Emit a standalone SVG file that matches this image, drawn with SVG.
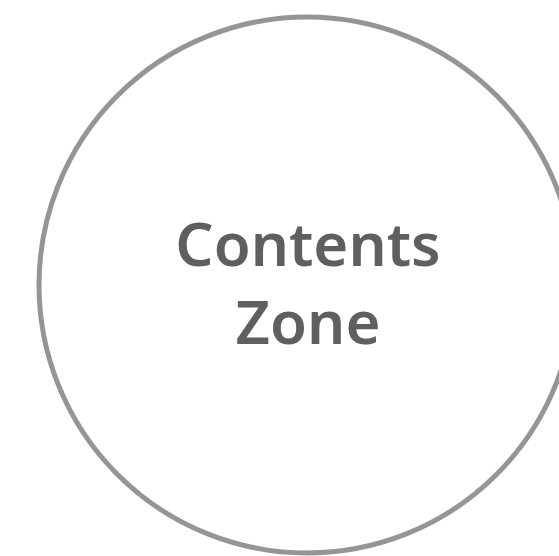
<svg xmlns="http://www.w3.org/2000/svg" width="559" height="556" viewBox="0 0 559 556">
<style>
.zone{fill:#ffffff;stroke:#959595;stroke-width:5}
.lbl{font-family:"Noto Sans","Open Sans",sans-serif;font-weight:600;font-size:60px;fill:#5f5f5f;text-anchor:middle}
</style>
<rect width="559" height="556" fill="#ffffff"/>
<g id="contents-zone">
<circle class="zone" cx="307" cy="285" r="268"/>
<text class="lbl" x="308" y="266">Contents</text>
<text class="lbl" x="308" y="344">Zone</text>
</g>
<g id="connectors"></g>
</svg>
